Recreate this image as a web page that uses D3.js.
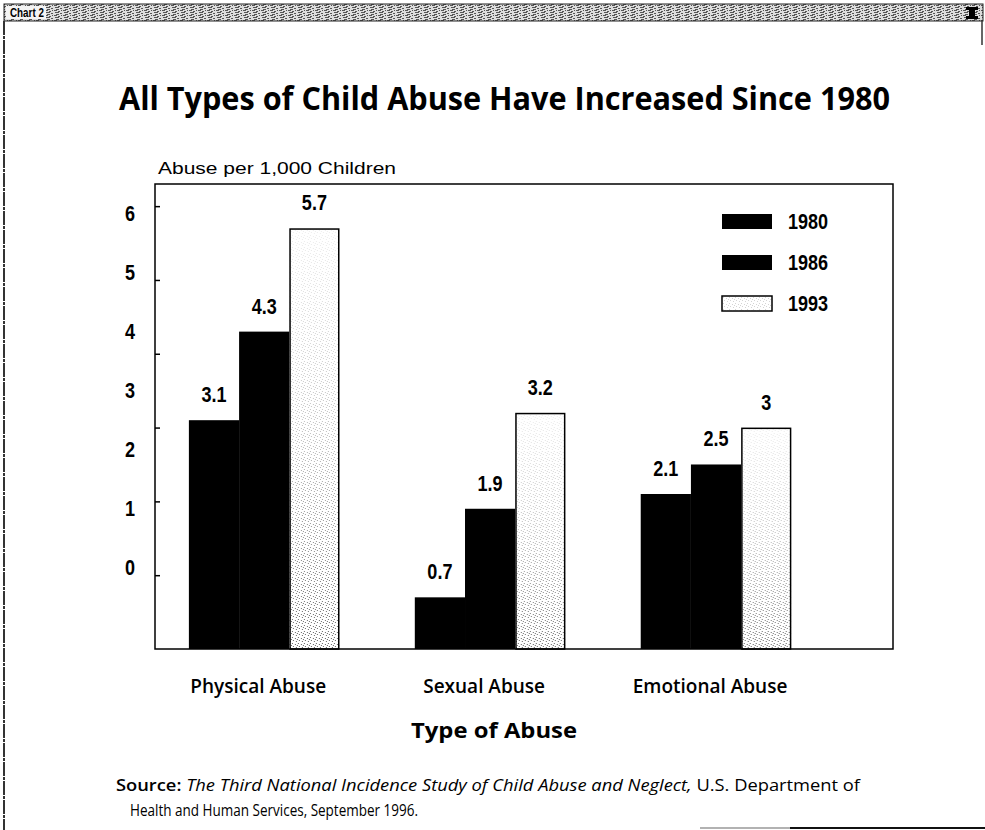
<!DOCTYPE html>
<html>
<head>
<meta charset="utf-8">
<script src="https://cdn.jsdelivr.net/npm/d3@7"></script>
<style>
  html, body { margin: 0; padding: 0; background: #fff; }
  svg { display: block; }
  .cond { font-family: "Liberation Sans", Arial, sans-serif; font-weight: bold; }
  .human { font-family: "Open Sans", "Noto Sans", sans-serif; }
</style>
</head>
<body>
<svg id="chart" width="985" height="830"></svg>
<script>
// Abuse rates per 1,000 children, by type of abuse and survey year
const categories = ["Physical Abuse", "Sexual Abuse", "Emotional Abuse"];
const years = ["1980", "1986", "1993"];
const rate1980 = [3.1, 0.7, 2.1];
const rate1986 = [4.3, 1.9, 2.5];
const rate1993 = [5.7, 3.2, 3];
const axisLabels = [0, 1, 2, 3, 4, 5, 6];
const axisTicks = [1, 2, 3, 4, 5, 6];

const seriesByYear = { "1980": rate1980, "1986": rate1986, "1993": rate1993 };
const rows = categories.map((c, i) => ({
  category: c,
  values: years.map(yr => ({ year: yr, value: seriesByYear[yr][i] }))
}));

const svg = d3.select("#chart");
const plot = { left: 155, right: 893, top: 184, bottom: 649 };
const narrow = 0.82; // horizontal squeeze for the condensed number labels

const defs = svg.append("defs");

// fine stipple used by the 1993 bars
const stip = defs.append("pattern").attr("id", "stipple")
  .attr("patternUnits", "userSpaceOnUse").attr("width", 6).attr("height", 6);
[[1, 1], [4, 2], [2, 4], [5, 5], [0, 3]].forEach(([px, py]) =>
  stip.append("rect").attr("x", px).attr("y", py).attr("width", 1).attr("height", 1).attr("fill", "#555"));

const grad = defs.append("linearGradient").attr("id", "fadeGrad")
  .attr("x1", 0).attr("y1", 0).attr("x2", 0).attr("y2", 1);
grad.append("stop").attr("offset", 0).attr("stop-color", "#fff").attr("stop-opacity", 0.1);
grad.append("stop").attr("offset", 0.5).attr("stop-color", "#fff").attr("stop-opacity", 0.4);
grad.append("stop").attr("offset", 1).attr("stop-color", "#fff").attr("stop-opacity", 0.95);
defs.append("mask").attr("id", "fade").attr("maskContentUnits", "objectBoundingBox")
  .append("rect").attr("width", 1).attr("height", 1).attr("fill", "url(#fadeGrad)");

// speckled window header
const hdr = defs.append("pattern").attr("id", "hdrTex")
  .attr("patternUnits", "userSpaceOnUse").attr("width", 9).attr("height", 5);
hdr.append("rect").attr("width", 9).attr("height", 5).attr("fill", "#dcdcdc");
[[0, 0, 3], [4, 1, 2], [1, 2, 4], [6, 3, 2], [2, 4, 3], [7, 0, 1]].forEach(([hx, hy, w]) =>
  hdr.append("rect").attr("x", hx).attr("y", hy).attr("width", w).attr("height", 1).attr("fill", "#555"));

svg.append("rect").attr("x", 4).attr("y", 4).attr("width", 979).attr("height", 17)
  .attr("fill", "url(#hdrTex)").attr("stroke", "#222").attr("stroke-width", 1);
svg.append("rect").attr("x", 6).attr("y", 6).attr("width", 40).attr("height", 13).attr("fill", "#f4f4f4");
svg.append("text").attr("class", "cond").attr("font-size", 12)
  .attr("transform", `translate(10,17) scale(${narrow},1)`).attr("fill", "#000").text("Chart 2");
svg.append("path").attr("d", "M966,7 h12 v3 h-3 v6 h3 v3 h-12 v-3 h3 v-6 h-3 z").attr("fill", "#000");
svg.append("line").attr("x1", 4).attr("x2", 4).attr("y1", 21).attr("y2", 830)
  .attr("stroke", "#333").attr("stroke-width", 2).attr("stroke-dasharray", "14,1,3,1");
svg.append("line").attr("x1", 982).attr("x2", 982).attr("y1", 21).attr("y2", 45)
  .attr("stroke", "#333").attr("stroke-width", 1.5);
svg.append("line").attr("x1", 700).attr("x2", 790).attr("y1", 828).attr("y2", 828)
  .attr("stroke", "#999").attr("stroke-width", 1.5);
svg.append("line").attr("x1", 790).attr("x2", 985).attr("y1", 828).attr("y2", 828)
  .attr("stroke", "#111").attr("stroke-width", 2);

// title
svg.append("text").attr("class", "human").attr("x", 119).attr("y", 110)
  .attr("font-size", 33).attr("font-weight", 700)
  .attr("textLength", 771).attr("lengthAdjust", "spacingAndGlyphs")
  .text("All Types of Child Abuse Have Increased Since 1980");

// scales
const x0 = d3.scaleBand().domain(categories).range([plot.left, plot.right])
  .paddingInner(1 / 3).paddingOuter(0.3).align(0.25);
const x1 = d3.scaleBand().domain(years).range([0, x0.bandwidth()]);
const y = d3.scaleLinear().domain([0, 6.3]).range([plot.bottom, plot.top]);
const yLabel = d3.scaleLinear().domain([0, 6]).range([567, 213]);

// axis title
svg.append("text").attr("x", 158).attr("y", 174).attr("font-size", 16)
  .attr("font-family", "Liberation Sans, Arial, sans-serif")
  .attr("textLength", 238).attr("lengthAdjust", "spacingAndGlyphs")
  .text("Abuse per 1,000 Children");

// bars
const groups = svg.append("g").selectAll("g").data(rows).join("g")
  .attr("transform", d => `translate(${x0(d.category)},0)`);

groups.selectAll("rect.solid").data(d => d.values.filter(v => v.year !== "1993")).join("rect")
  .attr("class", "solid")
  .attr("x", d => x1(d.year)).attr("width", x1.bandwidth())
  .attr("y", d => y(d.value)).attr("height", d => y(0) - y(d.value))
  .attr("fill", "#000");

const light = groups.selectAll("g.light").data(d => d.values.filter(v => v.year === "1993")).join("g")
  .attr("class", "light");
light.append("rect")
  .attr("x", d => x1(d.year)).attr("width", x1.bandwidth())
  .attr("y", d => y(d.value)).attr("height", d => y(0) - y(d.value))
  .attr("fill", "#fff");
light.append("rect")
  .attr("x", d => x1(d.year)).attr("width", x1.bandwidth())
  .attr("y", d => y(d.value)).attr("height", d => y(0) - y(d.value))
  .attr("fill", "url(#stipple)").attr("mask", "url(#fade)");
light.append("rect")
  .attr("x", d => x1(d.year) + 0.75).attr("width", x1.bandwidth() - 1.5)
  .attr("y", d => y(d.value) + 0.75).attr("height", d => y(0) - y(d.value) - 0.75)
  .attr("fill", "none").attr("stroke", "#000").attr("stroke-width", 1.5);

// value labels
groups.selectAll("text.val").data(d => d.values).join("text")
  .attr("class", "val cond")
  .attr("transform", d => `translate(${x1(d.year) + x1.bandwidth() / 2},${y(d.value) - 18}) scale(${narrow},1)`)
  .attr("text-anchor", "middle").attr("font-size", 22)
  .text(d => d3.format("~g")(d.value));

// plot frame
svg.append("rect").attr("x", plot.left).attr("y", plot.top)
  .attr("width", plot.right - plot.left).attr("height", plot.bottom - plot.top)
  .attr("fill", "none").attr("stroke", "#000").attr("stroke-width", 1.5);

// y tick marks on the left edge
svg.append("g").attr("transform", `translate(${plot.left},0)`)
  .call(d3.axisRight(y).tickValues(axisTicks).tickSize(5).tickFormat(""))
  .call(g => g.select(".domain").remove())
  .selectAll("line").attr("stroke", "#000").attr("stroke-width", 1.5);

// y tick labels
svg.append("g").attr("transform", "translate(135,0)")
  .call(d3.axisLeft(yLabel).tickValues(axisLabels).tickSize(0).tickPadding(0).tickFormat(d3.format("d")))
  .call(g => g.select(".domain").remove())
  .selectAll("text").attr("class", "cond").attr("font-size", 22).attr("fill", "#000")
  .attr("transform", `scale(${narrow},1)`);

// category labels
svg.append("g").attr("transform", `translate(0,${plot.bottom})`)
  .call(d3.axisBottom(x0).tickSize(0).tickPadding(31))
  .call(g => g.select(".domain").remove())
  .selectAll("text").attr("class", "human").attr("font-size", 19).attr("font-weight", 600)
  .attr("fill", "#000").attr("dx", -6);

svg.append("text").attr("class", "human").attr("x", 494).attr("y", 738)
  .attr("text-anchor", "middle").attr("font-size", 22).attr("font-weight", 700)
  .attr("textLength", 166).attr("lengthAdjust", "spacingAndGlyphs")
  .text("Type of Abuse");

// legend
const legend = svg.append("g").selectAll("g").data(years).join("g")
  .attr("transform", (d, i) => `translate(722,${214 + i * 41})`);
legend.append("rect").attr("width", 50).attr("height", 15)
  .attr("fill", d => d === "1993" ? "#fff" : "#000")
  .attr("stroke", d => d === "1993" ? "#000" : "none").attr("stroke-width", 1.5);
legend.filter(d => d === "1993").append("rect").attr("width", 50).attr("height", 15)
  .attr("fill", "url(#stipple)").attr("opacity", 0.25);
legend.append("text").attr("class", "cond")
  .attr("transform", `translate(66,15) scale(${narrow},1)`)
  .attr("font-size", 22).text(d => d);

// source note
const src = svg.append("text").attr("class", "human").attr("x", 116).attr("y", 791)
  .attr("font-size", 16).attr("textLength", 744).attr("lengthAdjust", "spacingAndGlyphs");
src.append("tspan").attr("font-weight", 600).text("Source: ");
src.append("tspan").attr("font-style", "italic").text("The Third National Incidence Study of Child Abuse and Neglect,");
src.append("tspan").text(" U.S. Department of");
svg.append("text").attr("class", "human").attr("x", 130).attr("y", 816)
  .attr("font-size", 16).attr("textLength", 288).attr("lengthAdjust", "spacingAndGlyphs")
  .text("Health and Human Services, September 1996.");
</script>
</body>
</html>
